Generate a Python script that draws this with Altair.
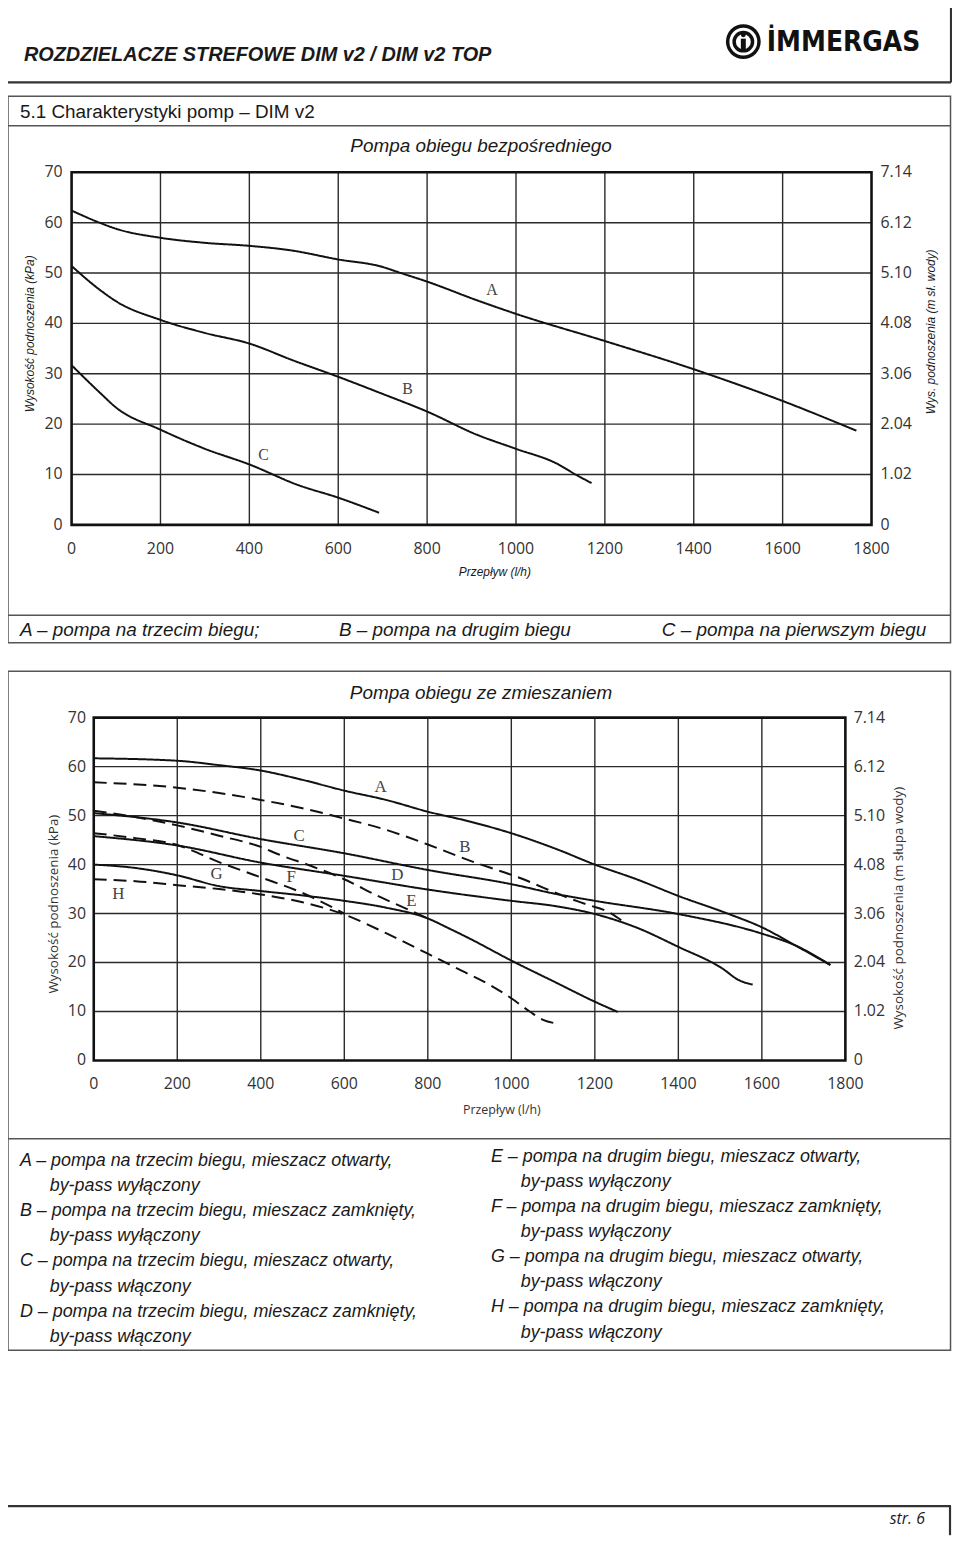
import altair as alt
import pandas as pd

# ---------------- shared axis values ----------------
X_TICKS = [0, 200, 400, 600, 800, 1000, 1200, 1400, 1600, 1800]
Y_TICKS = [0, 10, 20, 30, 40, 50, 60, 70]
Y_TICKS_M = ["0", "1.02", "2.04", "3.06", "4.08", "5.10", "6.12", "7.14"]

# ---------------- chart 1: Pompa obiegu bezpośredniego ----------------
P1_A_FLOW = [0, 63, 100, 200, 300, 400, 494, 600, 696, 741, 800, 912, 1000, 1200, 1400, 1600, 1766]
P1_A_HEAD = [62.4, 60.0, 58.8, 57.0, 56.0, 55.4, 54.5, 52.7, 51.3, 50.0, 48.3, 44.6, 41.9, 36.5, 30.9, 24.6, 18.7]
P1_B_FLOW = [0, 63, 100, 200, 300, 400, 500, 600, 700, 800, 912, 1000, 1091, 1136, 1170]
P1_B_HEAD = [51.4, 46.7, 44.4, 40.7, 38.1, 36.0, 32.6, 29.4, 26.0, 22.5, 17.9, 15.1, 12.2, 9.9, 8.3]
P1_C_FLOW = [0, 63, 100, 200, 300, 400, 510, 600, 692]
P1_C_HEAD = [31.7, 26.3, 23.3, 18.9, 15.1, 12.0, 7.9, 5.4, 2.4]
P1_LABELS = ["A", "B", "C"]
P1_LABEL_FLOW = [946, 756, 432]
P1_LABEL_HEAD = [46.6, 26.9, 13.9]
P1_LEGEND = ["A – pompa na trzecim biegu;", "B – pompa na drugim biegu", "C – pompa na pierwszym biegu"]

# ---------------- chart 2: Pompa obiegu ze zmieszaniem ----------------
P2_A_FLOW = [0, 200, 300, 400, 500, 600, 700, 800, 900, 1000, 1107, 1200, 1300, 1400, 1521, 1600, 1680, 1764]
P2_A_HEAD = [61.7, 61.2, 60.3, 59.2, 57.3, 55.1, 53.2, 50.8, 48.8, 46.4, 43.2, 40.0, 37.0, 33.6, 29.9, 27.2, 23.5, 19.5]
P2_B_FLOW = [0, 200, 400, 500, 600, 700, 800, 917, 973, 1029, 1076, 1124, 1179, 1235, 1267]
P2_B_HEAD = [56.8, 55.7, 53.2, 51.5, 49.4, 47.1, 44.1, 40.3, 38.7, 37.0, 35.3, 33.6, 31.9, 30.2, 28.4]
P2_C_FLOW = [0, 200, 400, 600, 800, 1000, 1107, 1200, 1400, 1600, 1680, 1764]
P2_C_HEAD = [50.5, 48.6, 45.2, 42.3, 38.9, 36.0, 34.0, 32.6, 29.9, 25.9, 23.5, 19.5]
P2_D_FLOW = [0, 200, 400, 600, 800, 1000, 1107, 1200, 1298, 1400, 1505, 1545, 1578]
P2_D_HEAD = [45.8, 43.9, 40.4, 37.7, 34.9, 32.6, 31.5, 29.9, 27.2, 23.2, 18.8, 16.4, 15.5]
P2_E_FLOW = [0, 100, 200, 300, 400, 442, 521, 600, 680, 759, 800]
P2_E_HEAD = [51.0, 49.7, 48.0, 45.9, 43.6, 42.1, 39.7, 37.0, 33.6, 30.6, 29.0]
P2_F_FLOW = [0, 100, 200, 300, 400, 500, 600]
P2_F_HEAD = [46.4, 45.4, 44.0, 40.5, 37.4, 34.2, 30.0]
P2_G_FLOW = [0, 100, 200, 300, 400, 500, 600, 700, 800, 850, 900, 1000, 1100, 1200, 1255]
P2_G_HEAD = [40.0, 39.3, 37.8, 35.6, 34.6, 33.7, 32.6, 31.2, 29.0, 27.0, 24.9, 20.4, 16.2, 12.0, 9.9]
P2_H_FLOW = [0, 100, 200, 300, 400, 500, 600, 700, 800, 870, 949, 1000, 1044, 1076, 1105]
P2_H_HEAD = [37.0, 36.6, 35.8, 35.0, 33.9, 32.3, 29.8, 26.0, 21.8, 18.8, 15.4, 12.7, 10.0, 8.3, 7.6]
P2_LABELS = ["A", "B", "C", "D", "E", "F", "G", "H"]
P2_STYLES = ["solid", "dashed", "solid", "solid", "dashed", "dashed", "solid", "dashed"]
P2_LABEL_FLOW = [687, 889, 492, 727, 761, 473, 294, 59]
P2_LABEL_HEAD = [55.9, 43.5, 45.9, 37.8, 32.5, 37.4, 38.0, 33.9]
P2_LEGEND_LEFT = [
    "A – pompa na trzecim biegu, mieszacz otwarty,", "by-pass wyłączony",
    "B – pompa na trzecim biegu, mieszacz zamknięty,", "by-pass wyłączony",
    "C – pompa na trzecim biegu, mieszacz otwarty,", "by-pass włączony",
    "D – pompa na trzecim biegu, mieszacz zamknięty,", "by-pass włączony",
]
P2_LEGEND_RIGHT = [
    "E – pompa na drugim biegu, mieszacz otwarty,", "by-pass wyłączony",
    "F – pompa na drugim biegu, mieszacz zamknięty,", "by-pass wyłączony",
    "G – pompa na drugim biegu, mieszacz otwarty,", "by-pass włączony",
    "H – pompa na drugim biegu, mieszacz zamknięty,", "by-pass włączony",
]

# ---------------- helpers ----------------
OFF = 8  # page margin: page px -> canvas px
SANS = "Liberation Sans, Arial, sans-serif"
TICKF = "Open Sans, sans-serif"
SERIF = "Liberation Serif, Times New Roman, serif"
ONE = alt.Data(values=[{"k": 1}])


def P(v):
    return v - OFF


def txt(s, x, y, size, font=SANS, align="left", style="normal", weight="normal",
        color="#1a1a1a", angle=0):
    mk = dict(text=s, fontSize=size, font=font, align=align, baseline="middle",
              fontStyle=style, fontWeight=weight, color=color)
    if angle:
        mk["angle"] = angle
    return alt.Chart(ONE).mark_text(**mk).encode(x=alt.value(P(x)), y=alt.value(P(y)))


def hline(x1, x2, y, w=1.5, color="#555"):
    return alt.Chart(ONE).mark_rule(strokeWidth=w, color=color).encode(
        x=alt.value(P(x1)), x2=alt.value(P(x2)), y=alt.value(P(y)))


def vline(x, y1, y2, w=1.5, color="#555"):
    return alt.Chart(ONE).mark_rule(strokeWidth=w, color=color).encode(
        x=alt.value(P(x)), y=alt.value(P(y1)), y2=alt.value(P(y2)))


def box(x1, x2, y1, y2, w=1.5, color="#555"):
    return alt.Chart(ONE).mark_rect(fillOpacity=0, stroke=color, strokeWidth=w).encode(
        x=alt.value(P(x1)), x2=alt.value(P(x2)), y=alt.value(P(y1)), y2=alt.value(P(y2)))


def dot(x, y, d, color):
    return alt.Chart(ONE).mark_point(filled=True, shape="circle", size=d * d, color=color,
                                     opacity=1, strokeWidth=0).encode(
        x=alt.value(P(x)), y=alt.value(P(y)))


def curves_frame(names, flows, heads, styles):
    rows = []
    for n, fl, hd, st in zip(names, flows, heads, styles):
        for f, h in zip(fl, hd):
            rows.append({"curve": n, "flow": f, "head": h, "style": st})
    return pd.DataFrame(rows)


def panel(curves, labels, geo):
    xs = alt.Scale(domain=[0, 1800], range=[P(geo["x0"]), P(geo["x1"])], nice=False, zero=False)
    ys = alt.Scale(domain=[0, 70], range=[P(geo["y0"]), P(geo["y1"])], nice=False, zero=False)
    X = alt.X("flow:Q", scale=xs, axis=None)
    Y = alt.Y("head:Q", scale=ys, axis=None)
    gridc = "#2a2a2a"
    vgrid = alt.Chart(pd.DataFrame({"flow": X_TICKS[1:-1], "lo": 0, "hi": 70})).mark_rule(
        color=gridc, strokeWidth=1.4).encode(x=X, y=alt.Y("lo:Q", scale=ys, axis=None), y2="hi:Q")
    hgrid = alt.Chart(pd.DataFrame({"head": Y_TICKS[1:-1], "lo": 0, "hi": 1800})).mark_rule(
        color=gridc, strokeWidth=1.4).encode(y=Y, x=alt.X("lo:Q", scale=xs, axis=None), x2="hi:Q")
    frame = alt.Chart(pd.DataFrame({"flow": [0], "f2": [1800], "head": [0], "h2": [70]})).mark_rect(
        fillOpacity=0, stroke="#111", strokeWidth=2.6).encode(x=X, x2="f2:Q", y=Y, y2="h2:Q")
    xlab = alt.Chart(pd.DataFrame({"flow": X_TICKS, "t": [str(v) for v in X_TICKS]})).mark_text(
        font=TICKF, fontSize=geo["tick"], color="#333", baseline="middle").encode(
        x=X, y=alt.value(P(geo["xlab_y"])), text="t:N")
    ylab = alt.Chart(pd.DataFrame({"head": Y_TICKS, "t": [str(v) for v in Y_TICKS]})).mark_text(
        font=TICKF, fontSize=geo["tick"], color="#333", baseline="middle", align="right").encode(
        y=Y, x=alt.value(P(geo["ylab_x"])), text="t:N")
    rlab = alt.Chart(pd.DataFrame({"head": Y_TICKS, "t": Y_TICKS_M})).mark_text(
        font=TICKF, fontSize=geo["tick"], color="#333", baseline="middle", align="left").encode(
        y=Y, x=alt.value(P(geo["rlab_x"])), text="t:N")
    lines = alt.Chart(curves).mark_line(interpolate="monotone", color="#111", strokeWidth=2).encode(
        x=X, y=Y, detail="curve:N",
        strokeDash=alt.StrokeDash("style:N", scale=alt.Scale(domain=["solid", "dashed"],
                                                             range=[[1, 0], [13, 7]]), legend=None))
    lab = alt.Chart(labels).mark_text(font=SERIF, fontSize=geo["lab"], color="#444",
                                      baseline="middle").encode(x=X, y=Y, text="name:N")
    return alt.layer(vgrid, hgrid, frame, lines, lab, xlab, ylab, rlab)


# ---------------- panels ----------------
c1 = curves_frame(["A", "B", "C"], [P1_A_FLOW, P1_B_FLOW, P1_C_FLOW],
                  [P1_A_HEAD, P1_B_HEAD, P1_C_HEAD], ["solid", "solid", "solid"])
l1 = pd.DataFrame({"name": P1_LABELS, "flow": P1_LABEL_FLOW, "head": P1_LABEL_HEAD})
g1 = dict(x0=72, x1=877, y0=523.3, y1=168.5, xlab_y=547.5, ylab_x=63, rlab_x=886, tick=16, lab=16)

c2 = curves_frame(P2_LABELS,
                  [P2_A_FLOW, P2_B_FLOW, P2_C_FLOW, P2_D_FLOW, P2_E_FLOW, P2_F_FLOW, P2_G_FLOW, P2_H_FLOW],
                  [P2_A_HEAD, P2_B_HEAD, P2_C_HEAD, P2_D_HEAD, P2_E_HEAD, P2_F_HEAD, P2_G_HEAD, P2_H_HEAD],
                  P2_STYLES)
l2 = pd.DataFrame({"name": P2_LABELS, "flow": P2_LABEL_FLOW, "head": P2_LABEL_HEAD})
g2 = dict(x0=94.3, x1=850.7, y0=1062.3, y1=717.3, xlab_y=1086.5, ylab_x=86.5, rlab_x=859, tick=16, lab=17)

panel1 = panel(c1, l1, g1)
panel2 = panel(c2, l2, g2)

# ---------------- page decoration ----------------
deco = [
    # header
    txt("ROZDZIELACZE STREFOWE DIM v2 / DIM v2 TOP", 24, 50, 20, style="italic", weight="bold"),
    dot(748, 37, 35, "#111"), dot(748, 37, 28, "#fff"), dot(748, 37, 22, "#111"), dot(748, 37, 15, "#fff"),
    alt.Chart(ONE).mark_rect(color="#111").encode(x=alt.value(P(745.5)), x2=alt.value(P(750.5)),
                                                  y=alt.value(P(34)), y2=alt.value(P(45))),
    dot(748, 30, 5, "#111"),
    txt("İMMERGAS", 926, 38, 28, font="DejaVu Sans Condensed, DejaVu Sans, sans-serif",
        weight="bold", align="right", color="#111"),
    hline(8, 957, 78, w=2.2, color="#333"),
    vline(957, 0, 78, w=2.2, color="#333"),
    # box 1
    box(8, 956.5, 92, 642),
    hline(8, 956.5, 121.7),
    txt("5.1 Charakterystyki pomp – DIM v2", 20, 107.5, 19),
    txt("Pompa obiegu bezpośredniego", 484, 142, 19, style="italic", align="center"),
    txt("Wysokość podnoszenia (kPa)", 30, 331, 12, style="italic", align="center", angle=270),
    txt("Wys. podnoszenia (m sł. wody)", 937, 329, 12, style="italic", align="center", angle=270),
    txt("Przepływ (l/h)", 498, 571, 12, style="italic", align="center"),
    hline(8, 956.5, 614.3),
    txt(P1_LEGEND[0], 20, 629, 19, style="italic"),
    txt(P1_LEGEND[1], 341, 629, 19, style="italic"),
    txt(P1_LEGEND[2], 666, 629, 19, style="italic"),
    # box 2
    box(8, 956.5, 670.7, 1354),
    txt("Pompa obiegu ze zmieszaniem", 484, 693, 19, style="italic", align="center"),
    txt("Wysokość podnoszenia (kPa)", 54, 905, 13.5, font=TICKF, color="#333", align="center", angle=270),
    txt("Wysokość podnoszenia (m słupa wody)", 905, 909, 13.5, font=TICKF, color="#333",
        align="center", angle=270),
    txt("Przepływ (l/h)", 505, 1112, 12.5, font=TICKF, color="#333", align="center"),
    hline(8, 956.5, 1141),
    # footer
    hline(0, 957, 1510.7, w=2.2, color="#333"),
    vline(956, 1510.7, 1540, w=2.2, color="#333"),
    txt("str. 6", 913, 1524, 16, font=TICKF, style="italic", align="center"),
]
for i, s in enumerate(P2_LEGEND_LEFT):
    deco.append(txt(s, 20 if i % 2 == 0 else 50, 1163 + 25.4 * i, 18, style="italic"))
for i, s in enumerate(P2_LEGEND_RIGHT):
    deco.append(txt(s, 494 if i % 2 == 0 else 524, 1159 + 25.3 * i, 18, style="italic"))

chart = alt.layer(*deco, panel1, panel2).resolve_scale(
    x="independent", y="independent", strokeDash="independent"
).properties(
    width=950, height=1530, autosize=alt.AutoSizeParams(type="none"), padding=0,
    background="#ffffff"
).configure_view(stroke=None)

chart.save("out.html", embed_options={"renderer": "svg", "actions": False})
